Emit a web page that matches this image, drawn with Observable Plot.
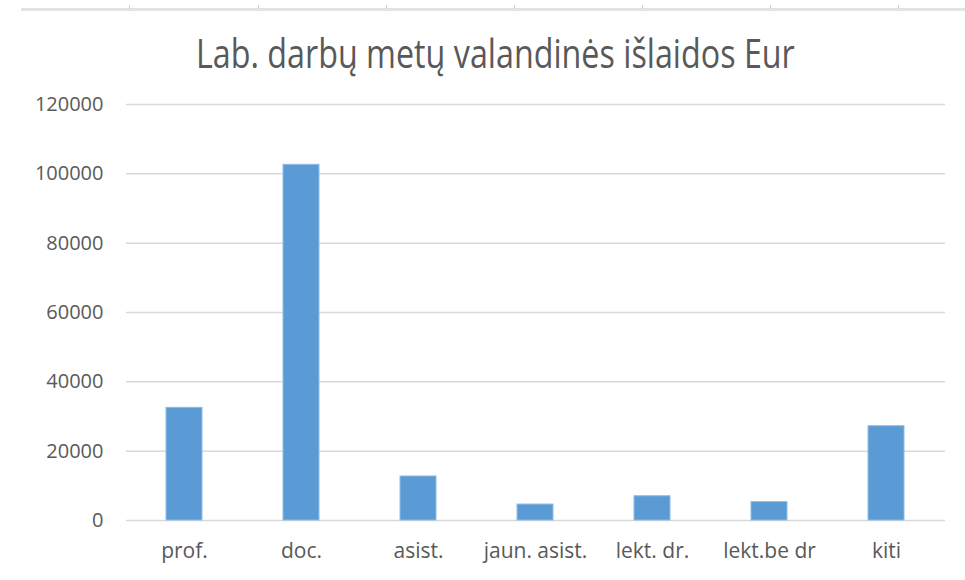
<!DOCTYPE html>
<html>
<head>
<meta charset="utf-8">
<script src="https://cdn.jsdelivr.net/npm/d3@7"></script>
<script src="https://cdn.jsdelivr.net/npm/@observablehq/plot@0.6"></script>
<style>
  body { margin: 0; background: #fff; font-family: "Open Sans", "Liberation Sans", sans-serif; }
  #wrap { width: 965px; height: 580px; position: relative; overflow: hidden; }
  #topline { position: absolute; left: 21px; right: 0; top: 8px; height: 3px; background: #e3e3e3; }
  .tk { position: absolute; top: 5px; width: 1px; height: 4px; background: #cfcfcf; }
  #title { position: absolute; left: 13px; top: 27px; width: 965px; text-align: center; font-size: 41px; line-height: 50px; color: #595959; white-space: nowrap; transform: scaleX(0.787); transform-origin: 482px 0; }
  #chart { position: absolute; left: 0; top: 85px; }
</style>
</head>
<body>
<div id="wrap">
  <div id="topline"></div>
  <div id="title">Lab. darbų metų valandinės išlaidos Eur</div>
  <div id="chart"></div>
</div>
<script>
const categories = ["prof.", "doc.", "asist.", "jaun. asist.", "lekt. dr.", "lekt.be dr", "kiti"];
const values = [32500, 102600, 12700, 4600, 7000, 5300, 27200];
const yTicks = [0, 20000, 40000, 60000, 80000, 100000, 120000];

// decorative spreadsheet ruler ticks at the very top
[129, 258, 386, 514, 642, 770, 898].forEach(x => {
  const d = document.createElement("div");
  d.className = "tk";
  d.style.left = x + "px";
  document.getElementById("wrap").appendChild(d);
});

const data = categories.map((c, i) => ({category: c, value: values[i]}));

const chart = Plot.plot({
  width: 965,
  height: 495,
  marginTop: 19,
  marginBottom: 60,
  marginLeft: 126,
  marginRight: 20,
  style: {fontFamily: "'Open Sans', 'Liberation Sans', sans-serif", color: "#595959", background: "transparent"},
  x: {domain: categories, paddingInner: 0.69, paddingOuter: 0.345, label: null},
  y: {domain: [0, 120000], label: null},
  marks: [
    Plot.gridY(yTicks, {stroke: "#d9d9d9", strokeOpacity: 1, strokeWidth: 1.5}),
    Plot.barY(data, {x: "category", y: "value", fill: "#5B9BD5", stroke: "#8fbbe6", strokeWidth: 1}),
    Plot.axisY(yTicks, {tickSize: 0, tickPadding: 23, fill: "#595959", tickFormat: d => String(d), fontSize: 20}),
    Plot.axisX({tickSize: 0, tickPadding: 23, fill: "#595959", fontSize: 21})
  ]
});
document.getElementById("chart").appendChild(chart);
</script>
</body>
</html>
